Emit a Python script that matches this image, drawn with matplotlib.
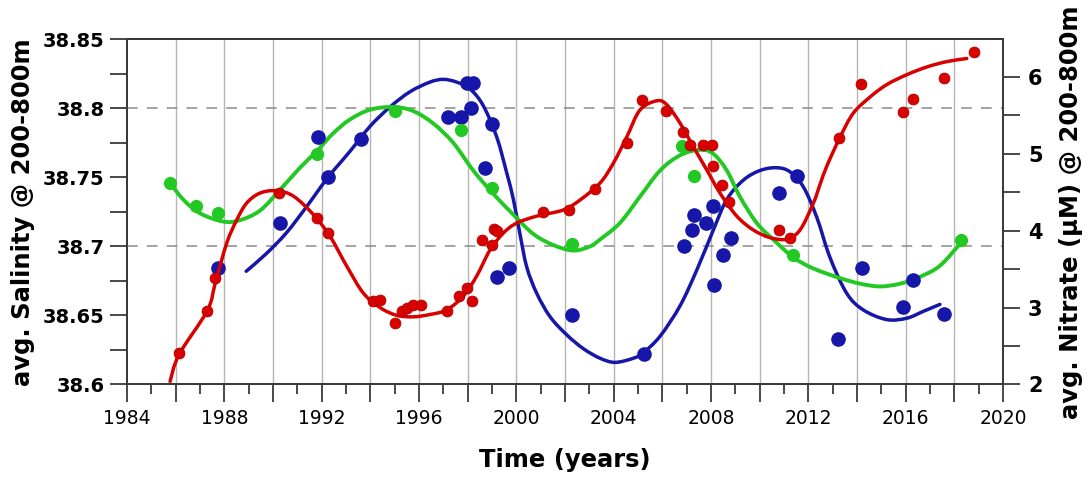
import numpy as np
import matplotlib
matplotlib.use("Agg")
import matplotlib.pyplot as plt
from matplotlib.path import Path
from matplotlib.patches import PathPatch
from matplotlib.ticker import MultipleLocator, FuncFormatter

# ---- data ----
# blue: salinity (left axis)
blue_yr = [1987.74, 1990.29, 1991.86, 1992.27, 1993.61, 1997.21, 1997.72, 1998.13, 1997.96,
           1998.23, 1999.01, 1998.71, 1999.20, 1999.70, 2002.28, 2005.25, 2006.89, 2007.21,
           2007.32, 2007.80, 2008.10, 2008.48, 2008.81, 2008.14, 2010.81, 2011.53, 2013.20,
           2014.20, 2015.91, 2016.32, 2017.57]
blue_val = [38.684, 38.717, 38.779, 38.750, 38.778, 38.794, 38.794, 38.800, 38.818,
            38.818, 38.789, 38.757, 38.678, 38.684, 38.650, 38.622, 38.700, 38.712,
            38.723, 38.717, 38.729, 38.694, 38.706, 38.672, 38.739, 38.751, 38.633,
            38.684, 38.656, 38.676, 38.651]
blue_fit_yr = [1988.90, 1989.74, 1990.56, 1991.39, 1992.26, 1993.17, 1993.99, 1994.81, 1995.63,
               1996.45, 1997.00, 1997.55, 1998.10, 1998.64, 1999.20, 1999.61, 1999.88, 2000.15,
               2000.43, 2000.84, 2001.39, 2002.07, 2002.75, 2003.44, 2004.06, 2004.81, 2005.22,
               2005.91, 2006.73, 2007.42, 2008.10, 2008.65, 2009.33, 2010.02, 2010.70, 2011.25,
               2011.80, 2012.35, 2012.89, 2013.58, 2014.26, 2015.22, 2016.05, 2016.73, 2017.41]
blue_fit = [38.682, 38.695, 38.710, 38.729, 38.750, 38.769, 38.787, 38.801, 38.812,
            38.819, 38.821, 38.819, 38.814, 38.802, 38.779, 38.753, 38.734, 38.709,
            38.685, 38.666, 38.649, 38.636, 38.626, 38.619, 38.616, 38.619, 38.623,
            38.635, 38.657, 38.683, 38.712, 38.734, 38.748, 38.755, 38.757, 38.754,
            38.743, 38.721, 38.692, 38.666, 38.654, 38.647, 38.648, 38.653, 38.658]

# green: salinity (left axis)
green_yr = [1985.77, 1986.82, 1987.75, 1991.80, 1995.02, 1997.72, 1999.01, 2002.30,
            2006.80, 2007.32, 2011.39, 2018.27]
green_val = [38.746, 38.729, 38.724, 38.767, 38.798, 38.784, 38.742, 38.702,
             38.773, 38.751, 38.694, 38.705]
green_fit_yr = [1985.77, 1986.31, 1987.00, 1987.96, 1988.64, 1989.47, 1990.29, 1991.11, 1991.80,
                1992.48, 1993.17, 1993.99, 1994.95, 1995.77, 1996.59, 1997.41, 1998.23, 1999.06,
                1999.88, 2000.70, 2001.52, 2002.34, 2003.03, 2003.44, 2004.26, 2005.08, 2005.91,
                2006.73, 2007.55, 2008.10, 2008.65, 2009.19, 2009.88, 2010.56, 2011.39, 2012.21,
                2013.31, 2014.13, 2014.95, 2015.77, 2016.59, 2017.41, 2018.24]
green_fit = [38.746, 38.734, 38.724, 38.718, 38.719, 38.726, 38.741, 38.757, 38.769,
             38.782, 38.792, 38.799, 38.801, 38.798, 38.789, 38.775, 38.755, 38.738,
             38.723, 38.709, 38.701, 38.697, 38.700, 38.705, 38.717, 38.736, 38.755,
             38.766, 38.770, 38.767, 38.755, 38.736, 38.717, 38.705, 38.692, 38.684,
             38.677, 38.673, 38.671, 38.673, 38.678, 38.686, 38.702]

# red: nitrate (right axis)
red_yr = [1986.14, 1987.30, 1987.63, 1990.26, 1991.82, 1992.25, 1994.12, 1994.40, 1995.02,
          1995.29, 1995.50, 1995.77, 1996.07, 1997.14, 1997.66, 1997.96, 1998.17, 1998.58,
          1998.99, 1999.08, 1999.20, 2001.11, 2002.18, 2003.24, 2004.54, 2005.15, 2006.15,
          2006.84, 2007.14, 2007.69, 2008.03, 2008.10, 2008.44, 2008.76, 2010.81, 2011.25,
          2013.28, 2014.17, 2015.91, 2016.32, 2017.58, 2018.83]
red_val = [2.41, 2.95, 3.39, 4.49, 4.16, 3.97, 3.08, 3.10, 2.80,
           2.95, 3.00, 3.04, 3.03, 2.95, 3.15, 3.26, 3.08, 3.88,
           3.82, 4.02, 3.99, 4.25, 4.27, 4.54, 5.14, 5.70, 5.56,
           5.29, 5.12, 5.12, 5.12, 4.84, 4.60, 4.38, 4.01, 3.91,
           5.20, 5.91, 5.54, 5.72, 5.99, 6.32]
red_fit_yr = [1985.77, 1986.14, 1987.30, 1987.63, 1988.10, 1988.51, 1988.92, 1989.47, 1990.15,
              1990.84, 1991.66, 1992.34, 1993.03, 1993.71, 1994.40, 1995.08, 1995.77, 1996.45,
              1997.14, 1997.82, 1998.37, 1998.92, 1999.47, 2000.02, 2000.84, 2001.93, 2002.62,
              2003.44, 2003.99, 2004.54, 2005.08, 2005.77, 2006.18, 2006.73, 2007.28, 2007.83,
              2008.37, 2009.06, 2009.74, 2010.43, 2011.11, 2011.66, 2012.21, 2012.48, 2012.76,
              2013.31, 2013.85, 2014.54, 2015.22, 2016.05, 2016.87, 2017.69, 2018.51]
red_fit = [2.04, 2.39, 2.96, 3.32, 3.84, 4.14, 4.36, 4.49, 4.52,
           4.45, 4.21, 3.93, 3.54, 3.19, 3.00, 2.90, 2.88, 2.91,
           2.97, 3.15, 3.41, 3.75, 3.97, 4.10, 4.19, 4.27, 4.40,
           4.62, 4.88, 5.22, 5.57, 5.69, 5.64, 5.40, 5.09, 4.79,
           4.49, 4.19, 4.01, 3.91, 3.89, 4.01, 4.36, 4.60, 4.84,
           5.22, 5.53, 5.74, 5.90, 6.03, 6.13, 6.20, 6.24]

RED = "#d90000"
BLUE = "#1616a8"
GREEN = "#22c922"


def smooth_line(a, xs, ys, color, lw):
    # draw the fitted curve through its read points as a Catmull-Rom bezier path
    pts = np.column_stack([xs, ys]).astype(float)
    verts = [tuple(pts[0])]
    codes = [Path.MOVETO]
    n = len(pts)
    for i in range(n - 1):
        p0 = pts[max(i - 1, 0)]
        p1 = pts[i]
        p2 = pts[i + 1]
        p3 = pts[min(i + 2, n - 1)]
        c1 = p1 + (p2 - p0) / 6.0
        c2 = p2 - (p3 - p1) / 6.0
        verts += [tuple(c1), tuple(c2), tuple(p2)]
        codes += [Path.CURVE4] * 3
    patch = PathPatch(Path(verts, codes), facecolor='none', edgecolor=color, lw=lw,
                      capstyle='round', joinstyle='round', zorder=3)
    a.add_patch(patch)


plt.rcParams['font.family'] = ['DejaVu Sans']

fig = plt.figure(figsize=(10.89, 4.83), dpi=100)
ax = fig.add_axes([0.1166, 0.204, 0.8044, 0.7146])
ax2 = ax.twinx()

ax.set_xlim(1984, 2020)
ax.set_ylim(38.6, 38.85)
ax2.set_ylim(2, 6.49)

# grid
for yr in range(1986, 2020, 2):
    ax.axvline(yr, color="#b5b5b5", lw=1.0, zorder=0)
for v in (38.7, 38.8):
    ax.axhline(v, color="#8a8a8a", lw=1.1, dashes=(7, 6), zorder=0)

smooth_line(ax, blue_fit_yr, blue_fit, BLUE, 2.5)
ax.plot(blue_yr, blue_val, 'o', color=BLUE, ms=9.5, mec=BLUE, zorder=4)
smooth_line(ax, green_fit_yr, green_fit, GREEN, 2.8)
ax.plot(green_yr, green_val, 'o', color=GREEN, ms=8.5, zorder=4)

smooth_line(ax2, red_fit_yr, red_fit, RED, 2.5)
ax2.plot(red_yr, red_val, 'o', color=RED, ms=7.8, mec="#b00000", mew=0.6, zorder=4)

# ticks
ax.xaxis.set_major_locator(MultipleLocator(2))
ax.xaxis.set_minor_locator(MultipleLocator(1))
ax.xaxis.set_major_formatter(FuncFormatter(lambda v, p: f"{int(round(v))}" if int(round(v)) % 4 == 0 else ""))
ax.yaxis.set_major_locator(MultipleLocator(0.05))
ax.yaxis.set_minor_locator(MultipleLocator(0.025))
ax.yaxis.set_major_formatter(FuncFormatter(lambda v, p: f"{v:g}"))
ax2.yaxis.set_major_locator(MultipleLocator(1))
ax2.yaxis.set_minor_locator(MultipleLocator(0.5))

spine_c = "#3a3a3a"
for a in (ax, ax2):
    for s in a.spines.values():
        s.set_color(spine_c)
        s.set_linewidth(1.4)

ax.tick_params(axis='x', which='major', direction='out', length=13, width=1.3, color=spine_c,
               labelsize=13.5, pad=5)
ax.tick_params(axis='x', which='minor', direction='out', length=7, width=1.3, color=spine_c)
ax.tick_params(axis='y', which='both', direction='out', length=12, width=1.3, color=spine_c,
               labelsize=14, pad=4)
ax2.tick_params(axis='y', which='both', direction='out', length=12, width=1.3, color=spine_c,
                labelsize=15, pad=6)
for lab in ax.get_yticklabels() + ax2.get_yticklabels():
    lab.set_fontweight('bold')

ax.set_xlabel("Time (years)", fontsize=17.5, fontweight='bold', va='center')
ax.xaxis.set_label_coords(0.5, -0.219)
ax.set_ylabel("avg. Salinity @ 200-800m", fontsize=17.5, fontweight='bold', va='center')
ax.yaxis.set_label_coords(-0.119, 0.5)
ax2.set_ylabel("avg. Nitrate (μM) @ 200-800m", fontsize=17.5, fontweight='bold',
               rotation=90, va='center')
ax2.yaxis.set_label_coords(1.078, 0.5)

fig.savefig("out.png", dpi=100)
